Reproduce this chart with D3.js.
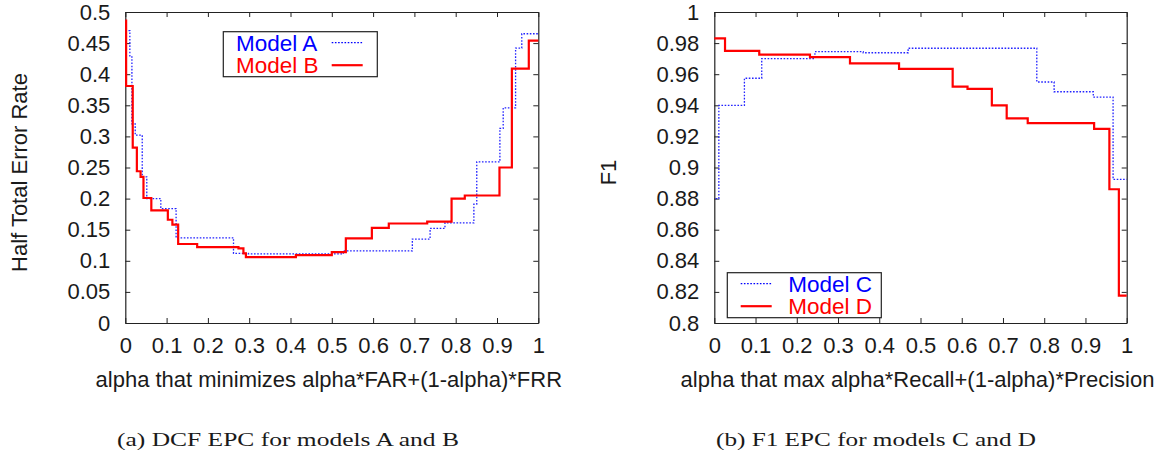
<!DOCTYPE html>
<html>
<head>
<meta charset="utf-8">
<script src="https://cdn.jsdelivr.net/npm/d3@7"></script>
<style>
  body { margin: 0; background: #fff; }
</style>
</head>
<body>
<div id="chart"></div>
<script>
// ---- data ----
// left panel: half total error rate vs alpha (step curves)
const alphaA = [0, 0.011, 0.016, 0.024, 0.041, 0.052, 0.086, 0.123, 0.262, 0.298, 0.528, 0.695, 0.738, 0.774, 0.844, 0.851, 0.907, 0.915, 0.945, 0.96, 1.0];
const hterA  = [0.47, 0.428, 0.32, 0.302, 0.235, 0.2, 0.184, 0.137, 0.112, 0.111, 0.116, 0.135, 0.152, 0.161, 0.191, 0.259, 0.313, 0.346, 0.442, 0.465, 0.465];

const alphaB = [0, 0.002, 0.018, 0.028, 0.037, 0.044, 0.063, 0.103, 0.114, 0.128, 0.174, 0.274, 0.286, 0.292, 0.413, 0.5, 0.534, 0.597, 0.638, 0.731, 0.79, 0.822, 0.906, 0.936, 0.977, 1.0];
const hterB  = [0.486, 0.381, 0.282, 0.244, 0.235, 0.201, 0.181, 0.166, 0.158, 0.127, 0.122, 0.120, 0.112, 0.106, 0.109, 0.114, 0.136, 0.153, 0.160, 0.163, 0.200, 0.205, 0.250, 0.409, 0.454, 0.454];

// right panel: F1 vs alpha
const alphaC = [0.003, 0.011, 0.073, 0.115, 0.244, 0.361, 0.47, 0.782, 0.824, 0.919, 0.967, 1.0];
const f1C    = [0.880, 0.940, 0.9574, 0.970, 0.9745, 0.9738, 0.9767, 0.955, 0.9487, 0.9453, 0.8924, 0.8924];

const alphaD = [0, 0.026, 0.109, 0.232, 0.329, 0.448, 0.578, 0.614, 0.673, 0.709, 0.760, 0.921, 0.958, 0.981, 1.0];
const f1D    = [0.983, 0.975, 0.9726, 0.971, 0.967, 0.9634, 0.952, 0.9505, 0.940, 0.9316, 0.9286, 0.9248, 0.886, 0.8176, 0.8176];

// tick values
const xTicks = [0, 0.1, 0.2, 0.3, 0.4, 0.5, 0.6, 0.7, 0.8, 0.9, 1];
const xTickLabels = ["0", "0.1", "0.2", "0.3", "0.4", "0.5", "0.6", "0.7", "0.8", "0.9", "1"];
const yTicksL = [0, 0.05, 0.1, 0.15, 0.2, 0.25, 0.3, 0.35, 0.4, 0.45, 0.5];
const yTickLabelsL = ["0", "0.05", "0.1", "0.15", "0.2", "0.25", "0.3", "0.35", "0.4", "0.45", "0.5"];
const yTicksR = [0.8, 0.82, 0.84, 0.86, 0.88, 0.9, 0.92, 0.94, 0.96, 0.98, 1];
const yTickLabelsR = ["0.8", "0.82", "0.84", "0.86", "0.88", "0.9", "0.92", "0.94", "0.96", "0.98", "1"];

const width = 1167, height = 455;
const SANS = '"Liberation Sans", Arial, sans-serif';
const SERIF = '"Liberation Serif", "Times New Roman", serif';

let svg = d3.select("#chart")
  .append("svg")
  .attr("width", width)
  .attr("height", height)
  .style("font-family", SANS);

const zip = (xs, ys) => xs.map((x, i) => [x, ys[i]]);

function panel(opt) {
  let x = d3.scaleLinear().domain([0, 1]).range([opt.left, opt.right]);
  let y = d3.scaleLinear().domain(opt.yDomain).range([opt.bottom, opt.top]);
  let g = svg.append("g");

  const fmtX = (d, i) => xTickLabels[i];
  const fmtY = (d, i) => opt.yLabels[i];

  // bottom + left with labels, top + right mirrored, ticks pointing in
  g.append("g")
    .attr("transform", `translate(0,${opt.bottom})`)
    .call(d3.axisBottom(x).tickValues(xTicks).tickFormat(fmtX).tickSizeInner(-5).tickSizeOuter(0).tickPadding(14));
  g.append("g")
    .attr("transform", `translate(0,${opt.top})`)
    .call(d3.axisTop(x).tickValues(xTicks).tickFormat("").tickSizeInner(-5).tickSizeOuter(0));
  g.append("g")
    .attr("transform", `translate(${opt.left},0)`)
    .call(d3.axisLeft(y).tickValues(opt.yTicks).tickFormat(fmtY).tickSizeInner(-5).tickSizeOuter(0).tickPadding(15));
  g.append("g")
    .attr("transform", `translate(${opt.right},0)`)
    .call(d3.axisRight(y).tickValues(opt.yTicks).tickFormat("").tickSizeInner(-5).tickSizeOuter(0));

  g.selectAll("g").attr("font-family", null);
  g.selectAll(".tick text")
    .attr("font-size", 22)
    .style("font-family", SANS)
    .attr("fill", "#1a1a1a");
  g.selectAll(".domain").attr("stroke", "#222").attr("stroke-width", 1.2);
  g.selectAll(".tick line").attr("stroke", "#222");

  // axis titles
  g.append("text")
    .attr("x", (opt.left + opt.right) / 2 - 3)
    .attr("y", 387)
    .attr("text-anchor", "middle")
    .attr("font-size", 22)
    .attr("fill", "#1a1a1a")
    .text(opt.xTitle);
  g.append("text")
    .attr("transform", `translate(${opt.yTitleX},${(opt.top + opt.bottom) / 2 + 5}) rotate(-90)`)
    .attr("text-anchor", "middle")
    .attr("font-size", 22)
    .attr("fill", "#1a1a1a")
    .text(opt.yTitle);

  let line = d3.line()
    .x(d => x(d[0]))
    .y(d => y(d[1]))
    .curve(d3.curveStepAfter);

  g.append("path")
    .datum(opt.dotted)
    .attr("fill", "none")
    .attr("stroke", "#2222ff")
    .attr("stroke-width", 1.3)
    .attr("stroke-dasharray", "1.6,1.6")
    .attr("d", line);
  g.append("path")
    .datum(opt.solid)
    .attr("fill", "none")
    .attr("stroke", "#ff0000")
    .attr("stroke-width", 2.2)
    .attr("d", line);

  // legend
  let lg = g.append("g").attr("transform", `translate(${opt.legend[0]},${opt.legend[1]})`);
  lg.append("rect")
    .attr("width", 154).attr("height", 45)
    .attr("fill", "#fff").attr("stroke", "#222").attr("stroke-width", 1.2);
  opt.legendItems.forEach((it, i) => {
    lg.append("text")
      .attr("x", it.tx)
      .attr("y", 19 + i * 22)
      .attr("font-size", 22.5)
      .attr("fill", it.color)
      .text(it.name);
    lg.append("line")
      .attr("x1", it.lx).attr("x2", it.lx + 31)
      .attr("y1", 11 + i * 22.5).attr("y2", 11 + i * 22.5)
      .attr("stroke", it.color)
      .attr("stroke-width", it.dashed ? 1.3 : 2.2)
      .attr("stroke-dasharray", it.dashed ? "1.6,1.6" : null);
  });

  // caption
  svg.append("text")
    .attr("x", opt.capX)
    .attr("y", 446)
    .attr("text-anchor", "middle")
    .style("font-family", SERIF)
    .attr("font-size", 19)
    .attr("textLength", opt.capLen)
    .attr("lengthAdjust", "spacingAndGlyphs")
    .attr("fill", "#1a1a1a")
    .text(opt.caption);
}

panel({
  left: 125.3, right: 538.3, top: 12, bottom: 323,
  yDomain: [0, 0.5], yTicks: yTicksL, yLabels: yTickLabelsL,
  xTitle: "alpha that minimizes alpha*FAR+(1-alpha)*FRR",
  yTitle: "Half Total Error Rate", yTitleX: 27,
  dotted: zip(alphaA, hterA), solid: zip(alphaB, hterB),
  legend: [223.3, 31.7],
  legendItems: [
    { name: "Model A", color: "#0000ff", dashed: true, tx: 12.7, lx: 108.4 },
    { name: "Model B", color: "#ff0000", dashed: false, tx: 12.7, lx: 108.4 }
  ],
  caption: "(a) DCF EPC for models A and B", capX: 288, capLen: 342
});

panel({
  left: 714.3, right: 1126.7, top: 12, bottom: 323,
  yDomain: [0.8, 1], yTicks: yTicksR, yLabels: yTickLabelsR,
  xTitle: "alpha that max alpha*Recall+(1-alpha)*Precision",
  yTitle: "F1", yTitleX: 616,
  dotted: zip(alphaC, f1C), solid: zip(alphaD, f1D),
  legend: [727.3, 272.7],
  legendItems: [
    { name: "Model C", color: "#0000ff", dashed: true, tx: 61, lx: 13.4 },
    { name: "Model D", color: "#ff0000", dashed: false, tx: 61, lx: 13.4 }
  ],
  caption: "(b) F1 EPC for models C and D", capX: 876, capLen: 320
});
</script>
</body>
</html>
